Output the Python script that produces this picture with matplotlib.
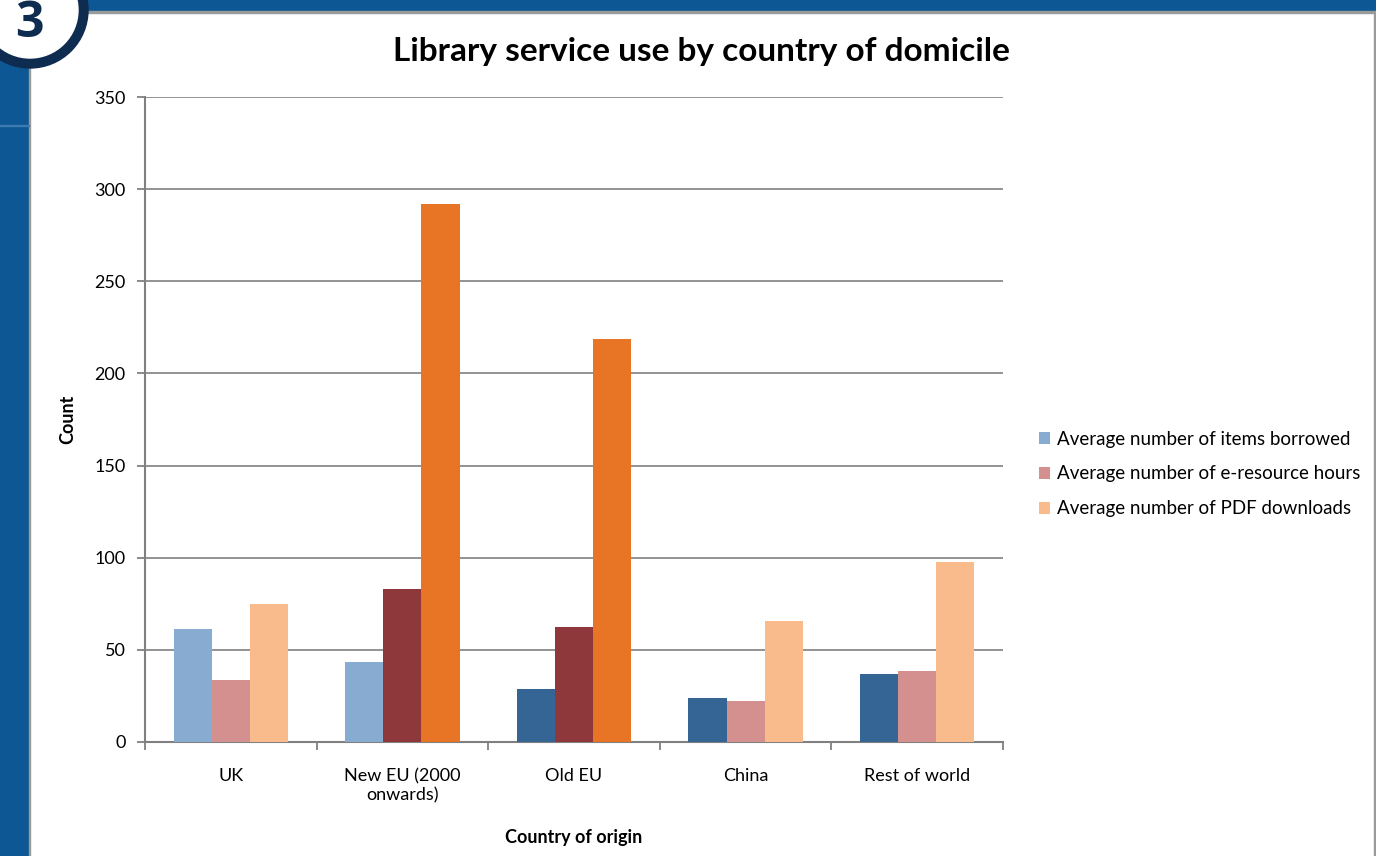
import numpy as np
import matplotlib
matplotlib.use("Agg")
import matplotlib.pyplot as plt
from matplotlib.patches import Rectangle, Circle, Patch

plt.rcParams['font.family'] = ['Lato', 'DejaVu Sans']

# data
countries = ["UK", "New EU (2000\nonwards)", "Old EU", "China", "Rest of world"]
items_borrowed = [61.3, 43.4, 28.8, 23.9, 36.9]
eresource_hours = [33.6, 83.0, 62.4, 22.2, 38.5]
pdf_downloads = [74.9, 292.0, 218.7, 65.6, 97.7]
series_names = ["Average number of items borrowed",
                "Average number of e-resource hours",
                "Average number of PDF downloads"]

# per-bar colours (the original highlights some bars in darker shades)
light = ["#88abd2", "#d48f8f", "#f9bb8b"]
colors_borrowed = ["#88abd2", "#88abd2", "#356595", "#356595", "#356595"]
colors_hours = ["#d48f8f", "#8f383c", "#8f383c", "#d48f8f", "#d48f8f"]
colors_pdf = ["#f9bb8b", "#e87425", "#e87425", "#f9bb8b", "#f9bb8b"]

W, H = 1376, 856
fig = plt.figure(figsize=(W / 100, H / 100), dpi=100)
fig.patch.set_facecolor("white")

# slide frame: blue strips on the left and top
fig.add_artist(Rectangle((0, 0), 29 / W, 1, transform=fig.transFigure,
                         color="#0d5894", zorder=0))
fig.add_artist(Rectangle((0, 1 - 11 / H), 1, 11 / H, transform=fig.transFigure,
                         color="#0d5894", zorder=0))
fig.add_artist(Rectangle((29 / W, 0), 1.5 / W, 1 - 11 / H, transform=fig.transFigure,
                         color="#9a9a9a", zorder=1))
fig.add_artist(Rectangle((29 / W, 1 - 12.5 / H), 1, 1.5 / H, transform=fig.transFigure,
                         color="#9a9a9a", zorder=1))
fig.add_artist(Rectangle((1 - 2 / W, 0), 2 / W, 1 - 11 / H, transform=fig.transFigure,
                         color="#9a9a9a", zorder=1))
fig.add_artist(Rectangle((0, 1 - 126 / H), 29 / W, 1 / H, transform=fig.transFigure,
                         color="#3d7ab0", zorder=1))

# numbered badge
cx, cy = 30 / 100, (H - 10) / 100
fig.add_artist(Circle((cx, cy), 0.58, transform=fig.dpi_scale_trans,
                      color="#0e2b50", zorder=3))
fig.add_artist(Circle((cx, cy), 0.48, transform=fig.dpi_scale_trans,
                      color="white", zorder=4))
fig.text(29 / W, 1 - 24 / H, "3", fontsize=36, fontweight="bold", color="#0e2b50",
         ha="center", va="center", zorder=5, family="Open Sans")

ax = fig.add_axes([145 / W, 1 - 742 / H, (1003 - 145) / W, (742 - 97) / H])

x = np.arange(len(countries))
w = 0.222
ax.bar(x - w, items_borrowed, w, color=colors_borrowed, zorder=3)
ax.bar(x, eresource_hours, w, color=colors_hours, zorder=3)
ax.bar(x + w, pdf_downloads, w, color=colors_pdf, zorder=3)

ax.set_xlim(-0.5, len(countries) - 0.5)
ax.set_ylim(0, 350)
ax.set_yticks(np.arange(0, 351, 50))
ax.yaxis.grid(True, color="#8a8a8a", linewidth=1.3, zorder=0)
ax.set_axisbelow(True)

ax.set_xticks(x)
ax.set_xticklabels(countries, fontsize=13)
ax.set_xticks(np.arange(-0.5, len(countries), 1), minor=True)
ax.tick_params(axis="x", which="major", length=0, pad=19)
ax.tick_params(axis="x", which="minor", length=6, color="#808080", width=1.3)
ax.tick_params(axis="y", length=6, color="#808080", width=1.3, labelsize=13, pad=8)

for s in ["top", "right"]:
    ax.spines[s].set_visible(False)
for s in ["left", "bottom"]:
    ax.spines[s].set_color("#808080")
    ax.spines[s].set_linewidth(1.5)

ax.set_ylabel("Count", fontsize=13, fontweight="bold")
ax.yaxis.set_label_coords((68 - 145) / (1003 - 145), 0.5)
ax.set_xlabel("Country of origin", fontsize=13, fontweight="bold")
ax.xaxis.set_label_coords(0.5, -(837 - 742) / (742 - 97))
ax.xaxis.label.set_va("center")
ax.yaxis.label.set_va("center")

fig.text(0.51, 1 - 52 / H, "Library service use by country of domicile",
         fontsize=24, fontweight="bold", ha="center", va="center")

handles = [Patch(facecolor=c) for c in light]
fig.legend(handles, series_names, loc="center left",
           bbox_to_anchor=(1026 / W, 1 - 474 / H), frameon=False,
           fontsize=13.5, handlelength=0.6, handleheight=0.6, handletextpad=0.35,
           labelspacing=0.95, borderpad=0.2)

fig.savefig("out.png", dpi=100)
